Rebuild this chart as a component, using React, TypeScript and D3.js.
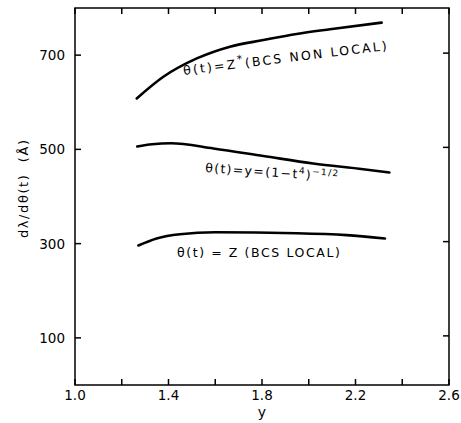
import React from "react";
import * as d3 from "d3";

const W = 461, H = 423;
const margin = { left: 75, right: 12, top: 8, bottom: 38 };

const xTicks = [1.0, 1.2, 1.4, 1.6, 1.8, 2.0, 2.2, 2.4, 2.6];
const xLabels = ["1.0", "1.4", "1.8", "2.2", "2.6"];
const yTicks = [100, 300, 500, 700];

const nonLocalX = [1.264, 1.378, 1.521, 1.663, 1.806, 1.948, 2.091, 2.312];
const nonLocalY = [608, 654, 693, 718, 732, 745, 755, 769];
const twoFluidX = [1.266, 1.33, 1.41, 1.592, 1.806, 2.019, 2.233, 2.345];
const twoFluidY = [506, 511, 513, 502, 486, 470, 458, 451];
const localX = [1.271, 1.349, 1.449, 1.6, 1.948, 2.162, 2.326];
const localY = [296, 311, 320, 324, 322, 318, 311];

export default function App() {
  const x = d3.scaleLinear().domain([1.0, 2.6]).range([margin.left, W - margin.right]);
  const y = d3.scaleLinear().domain([0, 800]).range([H - margin.bottom, margin.top]);
  const line = d3
    .line<[number, number]>()
    .x((d) => x(d[0]))
    .y((d) => y(d[1]))
    .curve(d3.curveMonotoneX);
  const series = [
    [nonLocalX, nonLocalY],
    [twoFluidX, twoFluidY],
    [localX, localY],
  ].map(([xs, ys]) => xs.map((v, i) => [v, ys[i]] as [number, number]));

  const x0 = x(1.0), x1 = x(2.6), y0 = y(0), y1 = y(800);
  const font = "'DejaVu Sans', 'Liberation Sans', sans-serif";
  const tl = 6;

  return (
    <svg width={W} height={H} style={{ position: "absolute", left: 0, top: 0, background: "#fff" }}>
      <g fill="none" stroke="#000" strokeWidth={1.5}>
        <rect x={x0} y={y1} width={x1 - x0} height={y0 - y1} />
        {xTicks.map((t) => (
          <g key={"xt" + t}>
            <line x1={x(t)} x2={x(t)} y1={y0} y2={y0 - tl} />
            <line x1={x(t)} x2={x(t)} y1={y1} y2={y1 + tl} />
          </g>
        ))}
        {yTicks.map((t) => (
          <g key={"yt" + t}>
            <line x1={x0} x2={x0 + tl} y1={y(t)} y2={y(t)} />
            <line x1={x1} x2={x1 - tl} y1={y(t) - 2} y2={y(t) - 2} />
          </g>
        ))}
      </g>
      <g fontFamily={font} fontSize={13.5} fill="#000">
        {xLabels.map((t) => (
          <text key={"xl" + t} x={x(+t)} y={y0 + 15} textAnchor="middle">{t}</text>
        ))}
        {yTicks.map((t) => (
          <text key={"yl" + t} x={x0 - 10} y={y(t) + 5} textAnchor="end">{t}</text>
        ))}
        <text x={x(1.8)} y={H - 6} textAnchor="middle" fontSize={14}>y</text>
        <text transform="translate(28,189) rotate(-90)" textAnchor="middle" fontSize={13} textLength={98} lengthAdjust="spacing" style={{ whiteSpace: "pre" }}>
          {"dλ/dθ(t)  (Å)"}
        </text>
      </g>
      <g fill="none" stroke="#000" strokeWidth={2.6} strokeLinecap="round">
        {series.map((s, i) => (
          <path key={"s" + i} d={line(s) || ""} />
        ))}
      </g>
      <g fontFamily={font} fontSize={12.5} fill="#000">
        <text transform={`translate(${x(1.465)},${y(658)}) rotate(-7)`} textLength={205} lengthAdjust="spacing">
          θ(t)=Z<tspan dy={-5} fontSize={11}>*</tspan><tspan dy={5}>(BCS NON LOCAL)</tspan>
        </text>
        <text transform={`translate(${x(1.556)},${y(452)}) rotate(4)`} textLength={133} lengthAdjust="spacing">
          θ(t)=y=(1−t<tspan dy={-5} fontSize={9}>4</tspan><tspan dy={5}>)</tspan>
          <tspan dy={-5} fontSize={9}>−1/2</tspan>
        </text>
        <text x={x(1.436)} y={y(272)} textLength={163} lengthAdjust="spacing">
          θ(t) = Z (BCS LOCAL)
        </text>
      </g>
    </svg>
  );
}
